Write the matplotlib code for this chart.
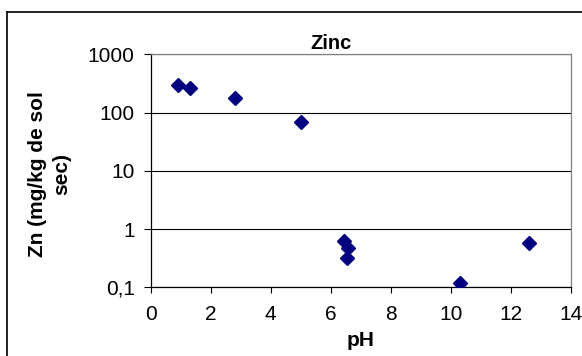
"""Zinc content versus soil pH (log scale)"""

import matplotlib
matplotlib.use("Agg")
import matplotlib.pyplot as plt
from matplotlib.lines import Line2D

plt.rcParams['font.family'] = ['Liberation Sans', 'DejaVu Sans']

# measured samples
ph = [0.9, 1.3, 2.8, 5.0, 6.45, 6.58, 6.55, 10.3, 12.6]
zn = [297, 261, 180, 70, 0.62, 0.47, 0.315, 0.12, 0.57]

yticks = [0.1, 1, 10, 100, 1000]
ytick_labels = ['0,1', '1', '10', '100', '1000']
xticks = [0, 2, 4, 6, 8, 10, 12, 14]

W, H = 582, 356
fig = plt.figure(figsize=(W / 100, H / 100), dpi=100)

# plot area in pixel units
left, right, top, bottom = 150.7, 571, 54.3, 287.3
ax = fig.add_axes([left / W, 1 - bottom / H, (right - left) / W, (bottom - top) / H])

ax.plot(ph, zn, ls='none', marker='D', ms=7, color='#000080', zorder=3)

ax.set_yscale('log')
ax.set_ylim(0.1, 1000)
ax.set_xlim(0, 14)
ax.set_yticks(yticks)
ax.set_yticklabels(ytick_labels)
ax.yaxis.set_minor_locator(matplotlib.ticker.NullLocator())
ax.set_xticks(xticks)

ax.grid(axis='y', which='major', color='black', lw=0.8)
ax.set_axisbelow(True)
for side in ['top', 'right']:
    ax.spines[side].set_color('#808080')
for side in ['left', 'bottom']:
    ax.spines[side].set_color('black')
for sp in ax.spines.values():
    sp.set_linewidth(0.9)

ax.tick_params(axis='y', direction='out', length=5, width=0.8, pad=6.5, labelsize=15)
ax.tick_params(axis='x', direction='out', length=4.5, width=0.8, pad=8.5, labelsize=15)

fig.text(331 / W, 1 - 49 / H, 'Zinc', ha='center', va='baseline',
         fontsize=14.5, fontweight='bold')
fig.text(361 / W, 1 - 346.5 / H, 'pH', ha='center', va='baseline',
         fontsize=15, fontweight='bold')
fig.text(49.5 / W, 1 - 174 / H, 'Zn (mg/kg de sol\nsec)', ha='center', va='center',
         rotation=90, fontsize=15, fontweight='bold', linespacing=1.35,
         multialignment='center')

# chart frame
fig.add_artist(Line2D([7 / W, 7 / W], [0, 1 - 12 / H], color='black', lw=1.2))
fig.add_artist(Line2D([7 / W, 1], [1 - 12 / H, 1 - 12 / H], color='black', lw=1.2))

fig.savefig('out.png', dpi=100)
